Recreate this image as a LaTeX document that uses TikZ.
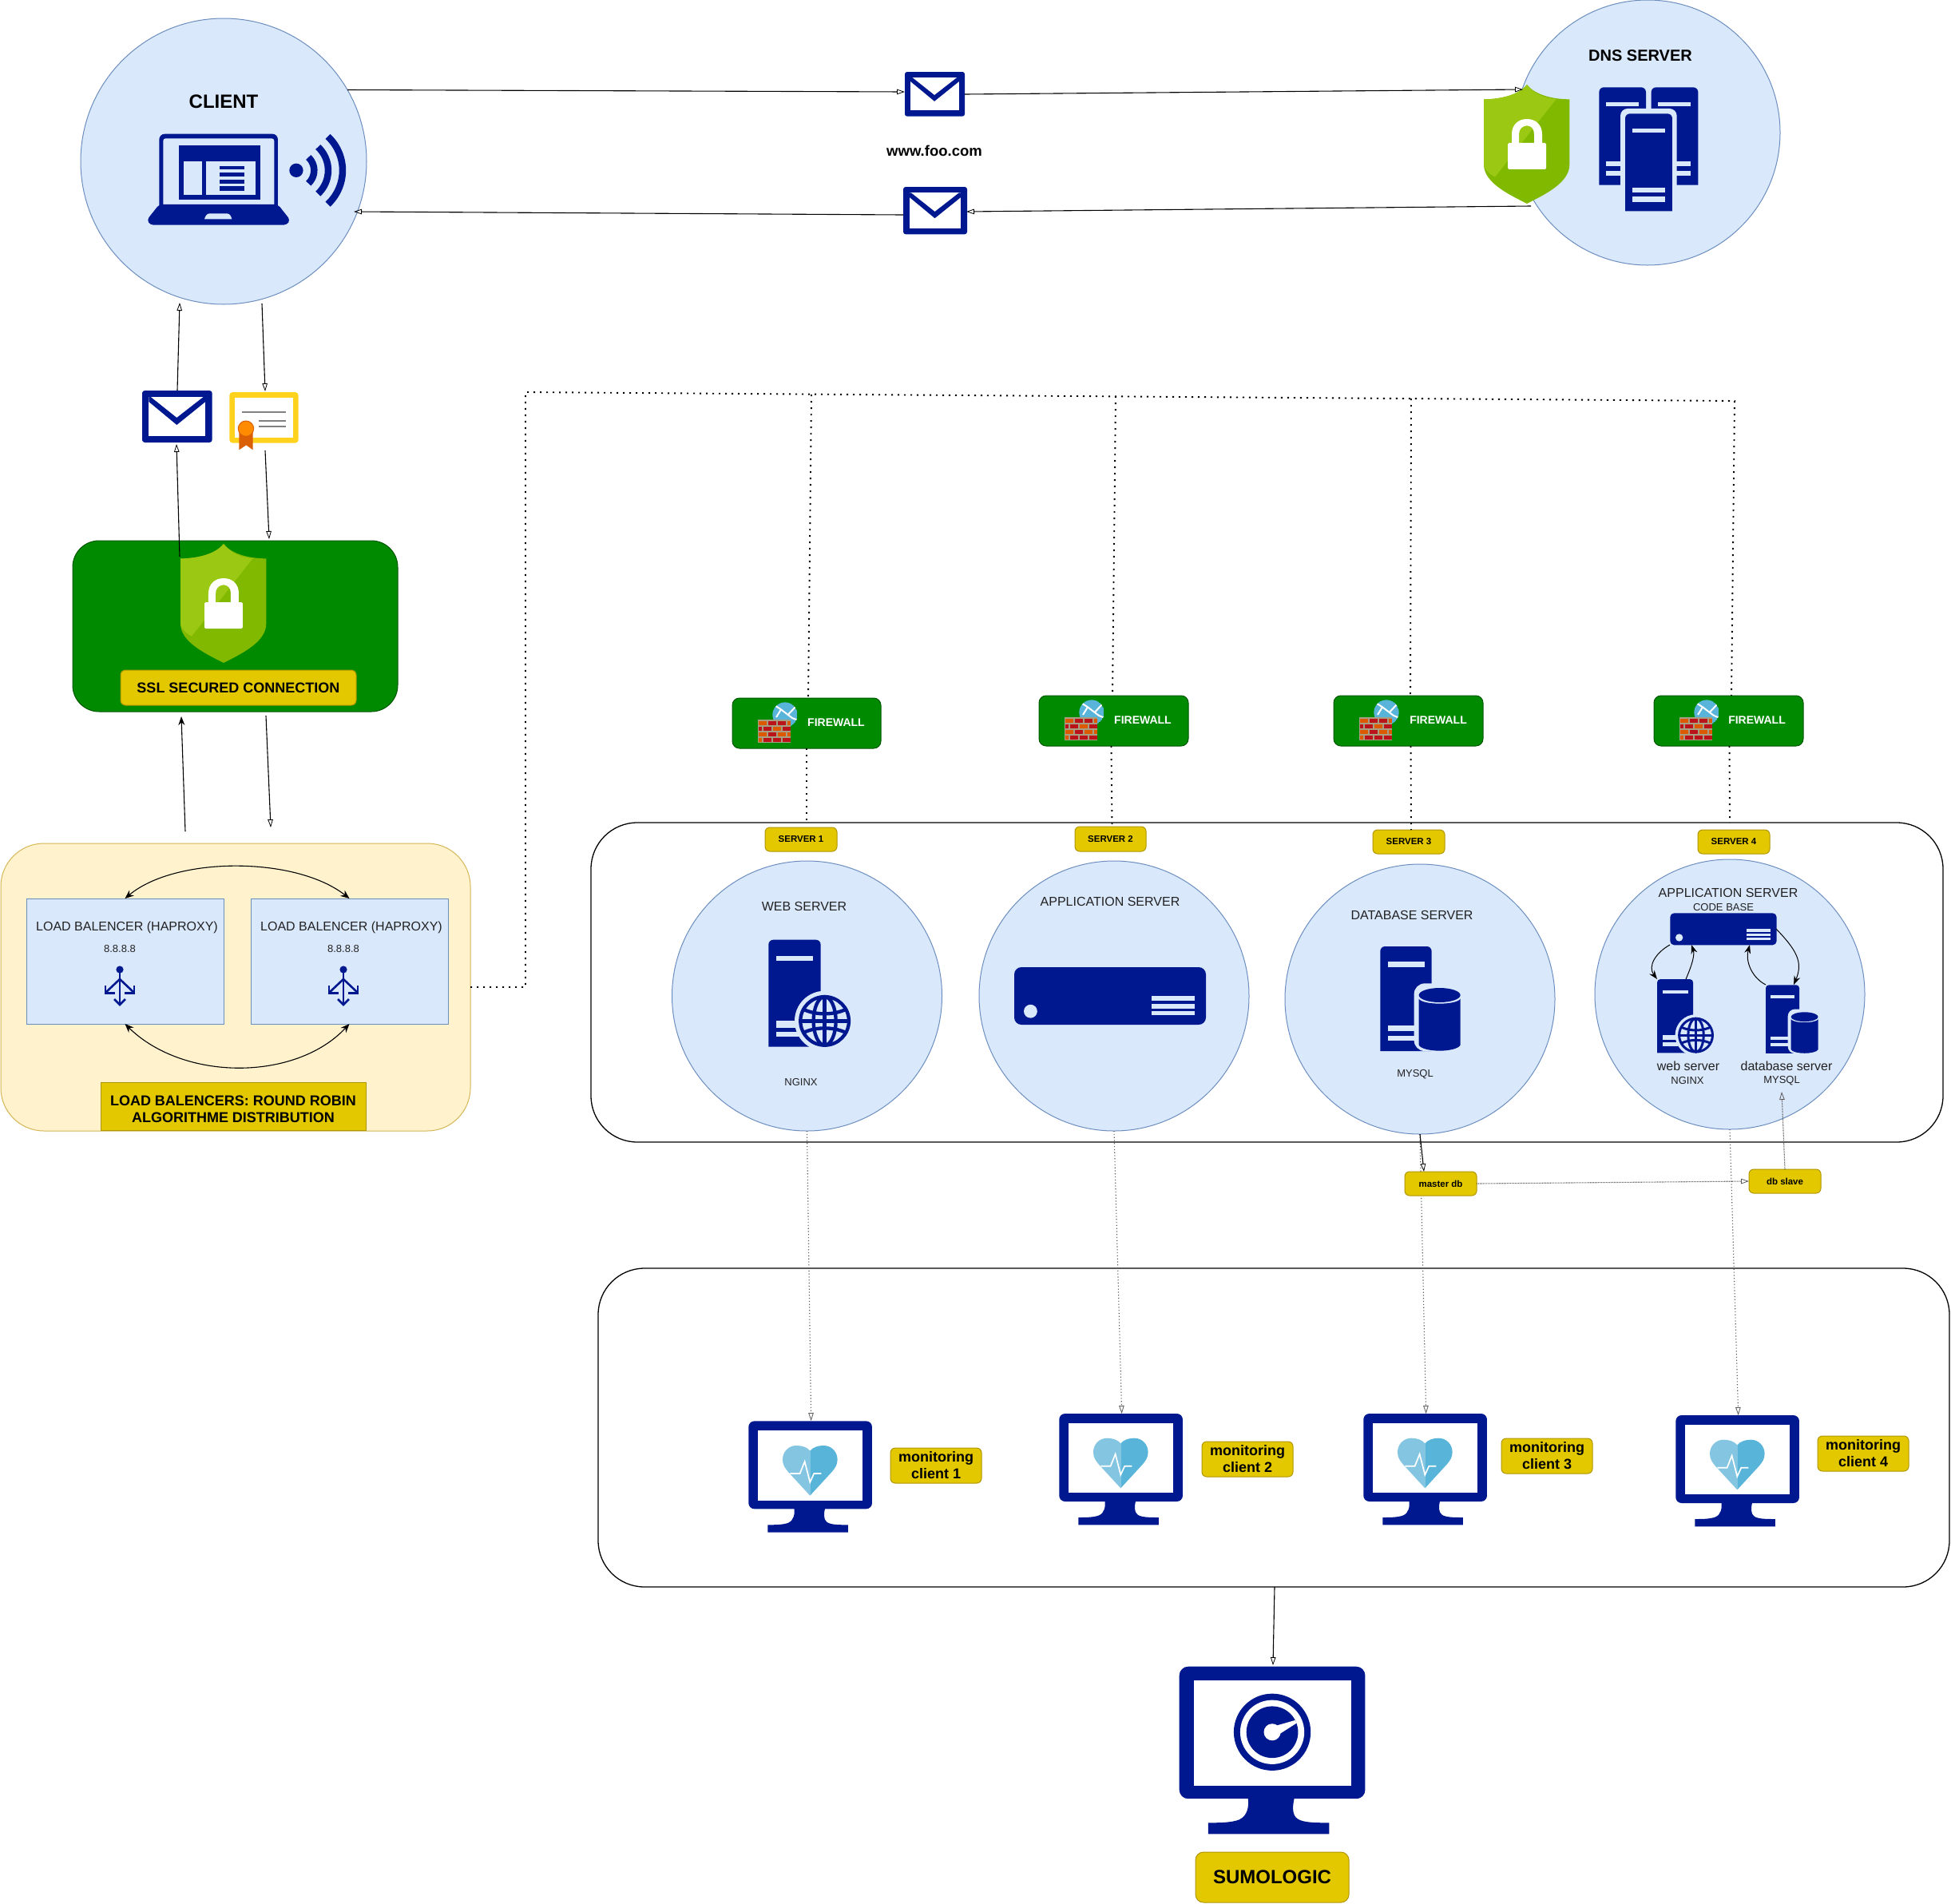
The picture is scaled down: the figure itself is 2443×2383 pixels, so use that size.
\documentclass[tikz,border=0pt]{standalone}
\usepackage{fontspec}
\setmainfont{Liberation Sans}
\usetikzlibrary{arrows.meta}
\definecolor{navy}{HTML}{00188F}
\definecolor{lightb}{HTML}{DAE8FC}
\definecolor{lineb}{HTML}{6C8EBF}
\definecolor{cream}{HTML}{FFF2CC}
\definecolor{creamline}{HTML}{D6B656}
\definecolor{gold}{HTML}{E3C800}
\definecolor{goldline}{HTML}{B09500}
\definecolor{grn}{HTML}{008A00}
\definecolor{grnline}{HTML}{005700}
\definecolor{shl}{HTML}{9AC813}
\definecolor{shd}{HTML}{80B900}
\definecolor{brickr}{HTML}{BA141A}
\definecolor{bricko}{HTML}{DD5900}
\definecolor{wallc}{HTML}{A89F83}
\definecolor{hb}{HTML}{59B4D9}
\definecolor{hl}{HTML}{84C5E2}
\definecolor{certy}{HTML}{FFD21E}
\definecolor{rib}{HTML}{DA5F05}
\definecolor{med}{HTML}{FF8C00}
\definecolor{txt}{HTML}{222222}
\newcommand\fs[1]{\fontsize{#1}{#1}\selectfont}
\newcommand\mkbox[7]{\pgfmathsetmacro\bw{#4-#2}\pgfmathsetmacro\bh{#5-#3}\pgfmathsetmacro\bx{(#2+#4)/2}\pgfmathsetmacro\by{(#3+#5)/2}\node[#6,rectangle,minimum width=\bw pt,minimum height=\bh pt,inner sep=0pt,outer sep=0pt] (#1) at (\bx,\by) {#7};}
\newcommand\tallrect[4]{(#1,#4) -- (#1,{#2+18}) .. controls (#1,{#2+8}) and ({#1+8},#2) .. ({#1+18},#2) -- ({#3-18},#2) .. controls ({#3-8},#2) and (#3,{#2+8}) .. (#3,{#2+18}) -- (#3,#4) -- cycle}
\newcommand\envicon[3]{\begin{scope}[shift={(#1,#2)},scale=#3]
\pgfmathsetmacro\rr{10*#3}
\fill[navy,rounded corners=\rr pt] (0,0) rectangle (263,195);
\fill[white] (25,24) rectangle (238,170);
\fill[navy] (32,24) -- (130,102) -- (230,24) -- (238,24) -- (238,42) -- (130,129) -- (25,42) -- (25,24) -- cycle;
\end{scope}}
\newcommand\shieldicon[2]{\begin{scope}[shift={(#1,#2)},scale=.3333]
\fill[shd] (162,0) .. controls (130,40) and (60,55) .. (0,55) -- (0,300) .. controls (0,370) and (100,415) .. (162,447) .. controls (224,415) and (322,370) .. (322,300) -- (322,55) .. controls (262,55) and (194,40) .. (162,0) -- cycle;
\fill[shl] (162,0) .. controls (130,40) and (60,55) .. (0,55) -- (0,300) .. controls (0,315) and (20,335) .. (42,347) -- (272,54) .. controls (225,50) and (190,35) .. (162,0) -- cycle;
\fill[white,rounded corners=1.5pt] (90,219) rectangle (234,318);
\fill[white] (105,225) -- (105,186) .. controls (105,150) and (130,129) .. (162,129) .. controls (194,129) and (219,150) .. (219,186) -- (219,225) -- (189,225) -- (189,186) .. controls (189,166) and (178,154) .. (162,154) .. controls (146,154) and (132,166) .. (132,186) -- (132,225) -- cycle;
\end{scope}}
\newcommand\globeicon[4]{\begin{scope}[shift={(#1,#2)}]
\pgfmathsetmacro\lw{13*#3}
\fill[lightb] (0,0) circle[radius=#4+16];
\fill[lightb] (0,0) circle[radius=#4];
\begin{scope}[navy,line width=\lw pt]
\draw (0,0) circle[radius=#4-6];
\draw (0,{-#4+6}) -- (0,{#4-6});
\draw ({-#4+6},0) -- ({#4-6},0);
\draw (0,0) ellipse[x radius=42,y radius=#4-6];
\draw (-76,-42) .. controls (-30,-22) and (30,-22) .. (76,-42);
\draw (-76,42) .. controls (-30,22) and (30,22) .. (76,42);
\end{scope}
\end{scope}}
\newcommand\towerglobe[3]{\begin{scope}[shift={(#1,#2)},scale=#3]
\fill[navy] \tallrect{0}{0}{196}{402};
\fill[lightb] (30,60) rectangle (168,78);
\fill[lightb] (30,305) rectangle (115,330);
\fill[lightb] (30,345) rectangle (115,364);
\globeicon{211}{305}{#3}{97}
\end{scope}}
\newcommand\towerdb[3]{\begin{scope}[shift={(#1,#2)},scale=#3]
\pgfmathsetmacro\rr{40*#3}
\fill[navy] \tallrect{0}{0}{193}{393};
\fill[lightb] (29,57) rectangle (166,77);
\fill[lightb] (29,297) rectangle (135,317);
\fill[lightb] (29,335) rectangle (135,354);
\fill[lightb,rounded corners=\rr pt] (127,139) rectangle (319,393);
\fill[navy] (223,183) ellipse[x radius=78,y radius=27];
\fill[navy] (145,197) .. controls (160,221) and (286,221) .. (301,197) -- (301,370) .. controls (295,385) and (255,392) .. (223,392) .. controls (191,392) and (151,385) .. (145,370) -- cycle;
\end{scope}}
\newcommand\rackicon[3]{\begin{scope}[shift={(#1,#2)},scale=#3]
\pgfmathsetmacro\rr{15*#3}
\fill[navy,rounded corners=\rr pt] (0,0) rectangle (400,120);
\fill[lightb] (34,92) circle[radius=14];
\fill[lightb] (286,60) rectangle (376,70);
\fill[lightb] (286,77) rectangle (376,87);
\fill[lightb] (286,92) rectangle (376,100);
\end{scope}}
\newcommand\monbase[3]{\begin{scope}[shift={(#1,#2)},scale=#3]
\pgfmathsetmacro\rr{22*#3}
\fill[navy,rounded corners=\rr pt] (0,0) rectangle (464,330);
\fill[white] (36,35) rectangle (429,298);
\fill[navy] (171,325) .. controls (175,350) and (170,372) .. (150,382) .. controls (130,390) and (100,390) .. (72,390) -- (72,418) -- (374,418) -- (374,390) .. controls (340,390) and (310,390) .. (295,380) .. controls (280,370) and (283,345) .. (288,325) -- cycle;
\end{scope}}
\newcommand\heartmon[3]{\monbase{#1}{#2}{#3}\begin{scope}[shift={(#1,#2)},scale=#3]
\pgfmathsetmacro\lw{5*#3}
\fill[hl] (231,112) .. controls (220,98) and (200,92) .. (180,92) .. controls (150,92) and (128,116) .. (128,145) .. controls (128,165) and (138,178) .. (150,192) -- (231,280) -- cycle;
\fill[hb] (231,112) .. controls (242,98) and (262,92) .. (282,92) .. controls (312,92) and (334,116) .. (334,145) .. controls (334,165) and (324,178) .. (312,192) -- (231,280) -- cycle;
\draw[white,line width=\lw pt] (156,197) -- (193,197) -- (211,152) -- (231,230) -- (246,197) -- (273,197);
\end{scope}}
\newcommand\lbicon[2]{\begin{scope}[shift={(#1,#2)},navy,line width=2.6pt]
\fill (0,4) ellipse[x radius=4.6,y radius=4.6];
\draw (0,4) -- (0,47);
\draw (-18,33) -- (0,16) -- (18,33);
\draw (-18,24) -- (-18,33.5) -- (-6,33.5);
\draw (18,24) -- (18,33.5) -- (6,33.5);
\draw (-7,41) -- (0,48) -- (7,41);
\end{scope}}
\newcommand\fwicon[2]{\begin{scope}[shift={(#1,#2)},scale=.3333]
\begin{scope}
\clip (198,63) circle[radius=47];
\fill[hb] (198,63) circle[radius=47];
\draw[white,line width=2pt] (155,25) -- (183,43) -- (225,75) -- (250,85);
\draw[white,line width=2pt] (183,43) -- (165,72);
\draw[white,line width=2pt] (210,62) -- (240,30);
\end{scope}
\fill[wallc] (95,82) rectangle (220,168);
\foreach \xa/\xb/\ya/\cc in {98/128/87/bricko,134/164/87/brickr,170/200/87/brickr,206/218/87/bricko,
98/110/108/brickr,116/146/108/brickr,152/182/108/bricko,188/218/108/brickr,
98/128/129/bricko,134/164/129/brickr,170/200/129/bricko,206/218/129/bricko,
98/110/150/bricko,116/146/150/brickr,152/182/150/brickr,188/218/150/brickr}
{\fill[\cc] (\xa,\ya) rectangle (\xb,\ya+14);}
\end{scope}}
\tikzset{
 circ/.style={circle,draw=lineb,fill=lightb,line width=1pt,inner sep=0pt,outer sep=0pt},
 lbl/.style={inner sep=0pt,outer sep=0pt,text=txt,align=center},
 blbl/.style={inner sep=0pt,outer sep=0pt,text=black,align=center,font=\bfseries},
 tag/.style={draw=goldline,fill=gold,line width=1pt,rounded corners=6pt,text=black,align=center},
 fwbox/.style={draw=grnline,fill=grn,line width=1pt,rounded corners=9pt},
 conn/.style={line width=1.1pt,draw=black},
 otip/.style={-{Triangle[open,length=10pt,width=6.5pt,line width=.8pt]}},
 ftip/.style={{Stealth[length=11pt,width=9pt]}-{Stealth[length=11pt,width=9pt]}},
 ftipe/.style={-{Stealth[length=11pt,width=8pt]}},
 dots/.style={line width=1.9pt,draw=black,dash pattern=on 2.2pt off 5.8pt},
 fine/.style={line width=1.1pt,draw=black!65,dash pattern=on 1.2pt off 2.6pt},
 ghost/.style={draw=none,fill=none},
 bigbox/.style={draw=black,line width=1.3pt,fill=white,rounded corners=58pt}
}
\begin{document}
\begin{tikzpicture}[x=1pt,y=-1pt]
\path[use as bounding box,fill=white] (0,0) rectangle (2443,2383);
% containers
\mkbox{srvbox}{740}{1030}{2433}{1430}{bigbox}{}
\mkbox{monbox}{749}{1588}{2441}{1987}{bigbox}{}
\mkbox{lbzone}{1}{1056}{589}{1416}{draw=creamline,fill=cream,line width=1pt,rounded corners=54pt}{}
\mkbox{sslzone}{91}{677}{498}{891}{draw=grnline,fill=grn,line width=1pt,rounded corners=33pt}{}
% circles
\node[circ,minimum size=358pt] (client) at (280,202) {};
\node[circ,minimum size=332pt] (dns) at (2063,166) {};
\node[circ,minimum size=338pt] (web) at (1010.5,1247) {};
\node[circ,minimum size=338pt] (app) at (1395,1247) {};
\node[circ,minimum size=338pt] (db) at (1778,1251) {};
\node[circ,minimum size=338pt] (appb) at (2166,1245) {};
% CLIENT
\node[blbl,font=\fs{24}\bfseries] (clientt) at (280,127) {CLIENT};
\begin{scope}[shift={(80,0)},scale=.3333]
\fill[navy,rounded corners=7pt] (358,790) -- (358,503) -- (804,503) -- (804,790) -- cycle;
\fill[lightb,rounded corners=3pt] (373,790) -- (373,520) -- (790,520) -- (790,790) -- cycle;
\fill[navy] (433,547) rectangle (737,750);
\fill[lightb] (450,607) rectangle (518,733);
\fill[lightb] (534,607) rectangle (720,733);
\fill[navy] (585,623) rectangle (678,637);
\fill[navy] (585,648) rectangle (678,663);
\fill[navy] (585,674) rectangle (678,689);
\fill[navy] (585,700) rectangle (678,716);
\fill[navy,rounded corners=4pt] (358,768) -- (804,768) -- (850,826) -- (838,845) -- (324,845) -- (312,826) -- cycle;
\fill[lightb] (528,823) .. controls (532,810) and (538,802) .. (548,802) -- (612,802) .. controls (622,802) and (628,810) .. (631,823) -- cycle;
\fill[navy] (873,640) circle[radius=26];
\draw[navy,line width=8.5pt] ([shift={(873,640)}]-47:67) arc[start angle=-47,end angle=47,radius=67];
\draw[navy,line width=8.5pt] ([shift={(873,640)}]-47:120) arc[start angle=-47,end angle=47,radius=120];
\draw[navy,line width=8.5pt] ([shift={(873,640)}]-47:174) arc[start angle=-47,end angle=47,radius=174];
\end{scope}
% DNS
\node[blbl,font=\fs{20}\bfseries] (dnst) at (2054,70) {DNS SERVER};
\begin{scope}[shift={(1800,0)},scale=.3333]
\fill[navy] \tallrect{607}{328}{783}{695};
\fill[navy] \tallrect{803}{328}{979}{695};
\fill[lightb] (633,383) rectangle (757,400);
\fill[lightb] (828,383) rectangle (952,400);
\fill[lightb] (633,605) rectangle (700,623);
\fill[lightb] (633,641) rectangle (700,660);
\fill[lightb] (885,605) rectangle (952,623);
\fill[lightb] (885,641) rectangle (952,660);
\fill[lightb,rounded corners=9pt] (687,408) rectangle (899,800);
\fill[navy] \tallrect{705}{427}{882}{793};
\fill[lightb] (731,482) rectangle (855,498);
\fill[lightb] (731,705) rectangle (855,722);
\fill[lightb] (731,738) rectangle (855,758);
\end{scope}
% icons
\mkbox{envA}{1133}{90}{1208}{146}{ghost}{}
\mkbox{envB}{1131}{234}{1210}{294}{ghost}{}
\mkbox{envC}{178}{489}{265}{554}{ghost}{}
\mkbox{cert}{287}{491}{374}{564}{ghost}{}
\mkbox{shieldD}{1858}{106}{1965}{255}{ghost}{}
\mkbox{shieldS}{226}{681}{333}{829}{ghost}{}
\envicon{1133}{90}{.2852}
\envicon{1131}{234}{.3042}
\envicon{178}{489}{.3333}
\node[blbl,font=\fs{18.5}\bfseries] (www) at (1170,189) {www.foo.com};
\shieldicon{1858}{106}
\shieldicon{226}{681}
\begin{scope}[shift={(80,470)},scale=.3333]
\fill[certy,rounded corners=4pt] (622,63) rectangle (881,254);
\fill[white] (643,85) rectangle (861,233);
\fill[black!50] (670,134) rectangle (834,140);
\fill[black!50] (733,167) rectangle (834,173);
\fill[black!50] (733,189) rectangle (834,195);
\fill[rib] (658,215) -- (710,215) -- (710,280) -- (685,262) -- (658,280) -- cycle;
\filldraw[fill=med,draw=rib,line width=1pt] (684,200) circle[radius=29];
\end{scope}
% load balancers
\mkbox{lbA}{33}{1125}{280}{1282}{draw=lineb,fill=lightb,line width=1pt}{}
\mkbox{lbB}{314}{1125}{561}{1282}{draw=lineb,fill=lightb,line width=1pt}{}
\node[lbl,font=\fs{16}] (lbAt) at (159,1161) {LOAD BALENCER (HAPROXY)};
\node[lbl,font=\fs{16}] (lbBt) at (440,1161) {LOAD BALENCER (HAPROXY)};
\node[lbl,font=\fs{13}] (lbAi) at (150,1188) {8.8.8.8};
\node[lbl,font=\fs{13}] (lbBi) at (430,1188) {8.8.8.8};
\lbicon{150}{1210}
\lbicon{430}{1210}
\mkbox{lbtag}{126}{1355}{458}{1415}{draw=goldline,fill=gold,line width=1pt}{}
\node[blbl,font=\fontsize{18}{21.5}\selectfont\bfseries] (lbtagt) at (292,1389) {LOAD BALENCERS: ROUND ROBIN\\ALGORITHME DISTRIBUTION};
\mkbox{ssltag}{151}{839}{446}{883}{tag,font=\fs{18}\bfseries}{SSL SECURED CONNECTION}
% server tags
\mkbox{tagA}{958}{1036}{1048}{1066}{tag,font=\fs{11.5}\bfseries}{SERVER 1}
\mkbox{tagB}{1346}{1035}{1435}{1066}{tag,font=\fs{11.5}\bfseries}{SERVER 2}
\mkbox{tagC}{1719}{1039}{1809}{1069}{tag,font=\fs{11.5}\bfseries}{SERVER 3}
\mkbox{tagD}{2126}{1039}{2216}{1069}{tag,font=\fs{11.5}\bfseries}{SERVER 4}
% server circles' content
\node[lbl,font=\fs{16}] (webt) at (1007,1135) {WEB SERVER};
\node[lbl,font=\fs{13}] (webn) at (1003,1355) {NGINX};
\towerglobe{962.3}{1176.7}{.3333}
\node[lbl,font=\fs{16}] (appt) at (1390,1129) {APPLICATION SERVER};
\rackicon{1270}{1211}{.6}
\node[lbl,font=\fs{16}] (dbt) at (1768,1146) {DATABASE SERVER};
\node[lbl,font=\fs{13}] (dbn) at (1772,1345) {MYSQL};
\towerdb{1728.3}{1185}{.3333}
\node[lbl,font=\fs{16}] (appbt) at (2164,1118) {APPLICATION SERVER};
\node[lbl,font=\fs{13}] (appbc) at (2158,1136) {CODE BASE};
\node[lbl,font=\fs{16}] (appbw) at (2114,1335) {web server};
\node[lbl,font=\fs{13}] (appbn) at (2113,1353) {NGINX};
\node[lbl,font=\fs{16}] (appbd) at (2237,1335) {database server};
\node[lbl,font=\fs{13}] (appbm) at (2231,1353) {MYSQL};
\rackicon{2091.3}{1143.3}{.3333}
\towerglobe{2075}{1226}{.23}
\towerdb{2211}{1233.3}{.218}
\mkbox{rackB}{2091}{1143}{2224}{1183}{ghost}{}
\mkbox{webB}{2075}{1226}{2146}{1319}{ghost}{}
\mkbox{dbB}{2211}{1233}{2278}{1319}{ghost}{}
% monitors
\mkbox{monA}{937.3}{1779}{1092}{1918}{ghost}{}
\mkbox{monB}{1326.3}{1770}{1481}{1909}{ghost}{}
\mkbox{monC}{1707.3}{1770}{1862}{1909}{ghost}{}
\mkbox{monD}{2098.3}{1772}{2253}{1911}{ghost}{}
\mkbox{monS}{1476.7}{2086.7}{1826}{2296}{ghost}{}
\heartmon{937.3}{1779.3}{.3333}
\heartmon{1326.3}{1770}{.3333}
\heartmon{1707.3}{1770}{.3333}
\heartmon{2098.3}{1772}{.3333}
\monbase{1476.7}{2086.7}{.5015}
\begin{scope}[shift={(1476.7,2086.7)},scale=.5015]
\fill[navy] (232,163.6) circle[radius=96];
\fill[white] (232,163.6) circle[radius=80];
\fill[navy] (232,163.6) circle[radius=64.5];
\fill[white] (232,163.6) circle[radius=21];
\fill[white] (226,152) -- (289,134) -- (293,141) -- (240,175) -- cycle;
\end{scope}
\mkbox{tagM1}{1115}{1813}{1229}{1857}{tag,font=\fontsize{18}{21}\selectfont\bfseries}{monitoring\\client 1}
\mkbox{tagM2}{1505}{1805}{1619}{1849}{tag,font=\fontsize{18}{21}\selectfont\bfseries}{monitoring\\client 2}
\mkbox{tagM3}{1880}{1801}{1994}{1845}{tag,font=\fontsize{18}{21}\selectfont\bfseries}{monitoring\\client 3}
\mkbox{tagM4}{2276}{1798}{2390}{1842}{tag,font=\fontsize{18}{21}\selectfont\bfseries}{monitoring\\client 4}
\mkbox{sumo}{1497}{2319}{1689}{2382}{tag,rounded corners=10pt,font=\fs{24}\bfseries}{SUMOLOGIC}
% named free ends
\coordinate (dnsIn) at (1907,112);
\coordinate (dnsOut) at (1917,258);
\coordinate (clientIn) at (443,265);
\coordinate (clientUp) at (225,379);
\coordinate (clientDn) at (328,380);
\coordinate (certIn) at (332,490);
\coordinate (envUpIn) at (222,489);
\coordinate (envUpOut) at (221,556);
\coordinate (shieldOut) at (225,697);
\coordinate (certOut) at (332,564);
\coordinate (sslIn) at (337,675);
\coordinate (sslUp) at (227,897);
\coordinate (lbUp) at (232,1041);
\coordinate (sslDn) at (333,896);
\coordinate (lbDn) at (339,1036);
\coordinate (treeA) at (658,1236);
\coordinate (treeB) at (658,491);
\coordinate (treeC) at (2173,502);
\coordinate (brA) at (1016,494);
\coordinate (brB) at (1397,496);
\coordinate (brC) at (1767,499);
\coordinate (brD) at (2172,502);
\coordinate (dbFree) at (2231,1367);
\coordinate (sumoIn) at (1594,2085);
\coordinate (monOut) at (1596,1987);
% top connectors
\draw[conn,otip] (client.30) -- ([yshift=3pt]envA.west);
\draw[conn,otip] (envA.east) -- (dnsIn);
\draw[conn,otip] (dnsOut) -- ([yshift=-1pt]envB.east);
\draw[conn,otip] ([yshift=-5pt]envB.west) -- (clientIn);
\draw[conn,otip] (envUpIn) -- (clientUp);
\draw[conn,otip] (clientDn) -- (certIn);
\draw[conn,otip] (shieldOut) -- (envUpOut);
\draw[conn,otip] (certOut) -- (sslIn);
\draw[conn,ftipe] (lbUp) -- (sslUp);
\draw[conn,otip] (sslDn) -- (lbDn);
% load balancer links
\draw[conn,ftip] (lbA.north) .. controls (220,1072) and (370,1072) .. (lbB.north);
\draw[conn,ftip] (lbA.south) .. controls (230,1354) and (370,1354) .. (lbB.south);
% dotted tree
\draw[dots] (lbzone.east) -- (treeA) -- (treeB) -- (treeC);
% fine dotted
\draw[fine,otip] (web.south) -- ([xshift=1pt]monA.north);
\draw[fine,otip] (app.south) -- ([xshift=1pt]monB.north);
\draw[fine,otip] (appb.south) -- ([xshift=1pt]monD.north);
\draw[fine,otip] (db.south) -- ([xshift=1pt]monC.north);
\mkbox{master}{1759}{1467}{1849}{1497}{tag,font=\fs{11.5}\bfseries}{master db}
\mkbox{slave}{2190}{1464}{2280}{1494}{tag,font=\fs{11.5}\bfseries}{db slave}
\draw[conn,otip] (db.south) -- ([xshift=-21pt]master.north);
\draw[fine,dash pattern=on 1pt off 1pt,otip] (master.east) -- (slave.west);
\draw[fine,dash pattern=on 1pt off 1pt,otip] (slave.north) -- (dbFree);
\draw[conn,ftipe,line width=1pt] (rackB.south west) .. controls (2073,1193) and (2063,1210) .. (webB.north west);
\draw[conn,ftipe,line width=1pt] ([xshift=36pt]webB.north west) .. controls (2120,1205) and (2122,1195) .. ([xshift=27pt]rackB.south west);
\draw[conn,ftipe,line width=1pt] (dbB.north west) .. controls (2195,1225) and (2185,1205) .. ([xshift=100pt]rackB.south west);
\draw[conn,ftipe,line width=1pt] (rackB.east) .. controls (2250,1190) and (2258,1205) .. ([xshift=35pt]dbB.north west);
\draw[conn,otip] (monOut) -- (sumoIn);
% firewalls
\draw[dots] (brA) -- (1012,874);
\draw[dots] (brB) -- (1393,871);
\draw[dots] (brC) -- (1766,871);
\draw[dots] (brD) -- (2168,871);
\mkbox{fwA}{917}{874}{1103}{937}{fwbox}{}
\mkbox{fwB}{1301}{871}{1488}{934}{fwbox}{}
\mkbox{fwC}{1670}{871}{1857}{934}{fwbox}{}
\mkbox{fwD}{2071}{871}{2258}{934}{fwbox}{}
\fwicon{917}{874}
\fwicon{1301}{871}
\fwicon{1670}{871}
\fwicon{2071}{871}
\node[text=white,font=\fs{14}\bfseries,inner sep=0pt] (fwAt) at (1047,905) {FIREWALL};
\node[text=white,font=\fs{14}\bfseries,inner sep=0pt] (fwBt) at (1431,902) {FIREWALL};
\node[text=white,font=\fs{14}\bfseries,inner sep=0pt] (fwCt) at (1801,902) {FIREWALL};
\node[text=white,font=\fs{14}\bfseries,inner sep=0pt] (fwDt) at (2200,902) {FIREWALL};
\draw[dots] (fwA.south) -- (srvbox.north -| fwA.south);
\draw[dots] ([xshift=-3pt]fwB.south) -- ([xshift=2pt]tagB.north);
\draw[dots] ([xshift=3pt]fwC.south) -- ([xshift=3pt,yshift=0pt]tagC.north);
\draw[dots] ([xshift=1pt]fwD.south) -- ([xshift=-5pt,yshift=9pt]tagD.north);
\end{tikzpicture}
\end{document}
